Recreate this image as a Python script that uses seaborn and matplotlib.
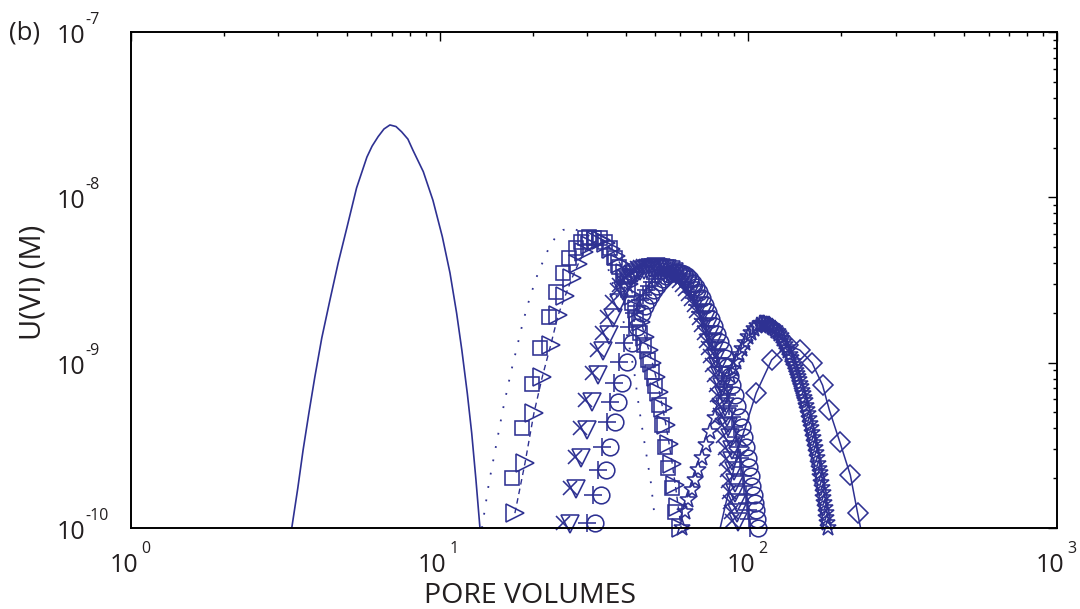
import matplotlib
matplotlib.use("Agg")
import matplotlib.pyplot as plt
import seaborn as sns
from matplotlib.ticker import LogLocator, NullFormatter
from matplotlib.transforms import blended_transform_factory, offset_copy

# ---------------- data ----------------
# solid line, no markers
pv_solid = [3.25, 3.32, 3.47, 3.61, 3.77, 3.94, 4.15, 4.41, 4.69, 5.01, 5.38, 5.81, 6.04, 6.32, 6.60,
            6.90, 7.22, 7.53, 7.89, 8.19, 8.85, 9.51, 10.2, 10.8, 11.35, 11.8, 12.29, 12.7, 13.11,
            13.5, 13.6]
u_solid = [9.0e-11, 1.01e-10, 1.74e-10, 2.96e-10, 4.96e-10, 8.18e-10, 1.41e-9, 2.39e-9, 4.01e-9,
           6.6e-9, 1.14e-8, 1.75e-8, 2.04e-8, 2.33e-8, 2.59e-8, 2.74e-8, 2.68e-8, 2.49e-8, 2.25e-8,
           1.93e-8, 1.43e-8, 9.6e-9, 5.78e-9, 3.49e-9, 1.99e-9, 1.19e-9, 6.52e-10, 3.75e-10,
           1.95e-10, 1.01e-10, 9.0e-11]

# dotted line, no markers
pv_dot = [13.71, 14.44, 15.22, 16.04, 17.02, 17.80, 18.61, 19.61, 20.82, 22.43, 23.63, 25.08, 26.43,
          27.85, 29.56, 32.57, 35.09, 37.81, 40.44, 42.61, 44.22, 45.56, 46.94, 48.36, 49.83]
u_dot = [1.0e-10, 1.87e-10, 3.13e-10, 5.24e-10, 8.77e-10, 1.24e-9, 1.76e-9, 2.49e-9, 3.48e-9, 4.80e-9,
         5.67e-9, 6.34e-9, 6.52e-9, 6.34e-9, 6.17e-9, 5.14e-9, 3.74e-9, 2.39e-9, 1.47e-9, 9.02e-10,
         5.39e-10, 3.75e-10, 2.65e-10, 1.87e-10, 1.12e-10]

# squares, no line
pv_sq = [17.15, 18.48, 19.91, 21.14, 22.60, 23.81, 25.08, 26.23, 27.64, 28.69, 29.56, 30.45, 31.7,
         33.0, 34.3, 35.6, 36.9, 38.2, 39.5, 40.8, 42.1, 43.4, 44.7, 46.0, 47.3, 48.6, 49.9, 51.2,
         52.5, 53.8, 55.1, 56.4, 57.7]
u_sq = [2.00e-10, 4.02e-10, 7.42e-10, 1.23e-9, 1.89e-9, 2.67e-9, 3.48e-9, 4.29e-9, 4.93e-9, 5.36e-9,
        5.67e-9, 5.75e-9, 5.67e-9, 5.67e-9, 5.36e-9, 4.93e-9, 4.29e-9, 3.79e-9, 3.29e-9, 2.75e-9,
        2.29e-9, 1.86e-9, 1.51e-9, 1.28e-9, 1.04e-9, 8.77e-10, 7.22e-10, 5.54e-10, 4.19e-10, 3.09e-10,
        2.30e-10, 1.74e-10, 1.25e-10]

# right triangles with dashed line
pv_tri = [17.53, 18.9, 20.2, 21.5, 22.9, 24.2, 25.5, 26.8, 28.1, 29.4, 30.7, 32.0, 33.3, 34.6, 35.9,
          37.2, 38.5, 39.8, 41.1, 42.4, 43.7, 45.0, 46.3, 47.6, 48.9, 50.2, 51.5, 52.8, 54.1, 55.4,
          56.7, 58.0, 59.3, 60.6]
u_tri = [1.23e-10, 2.47e-10, 4.95e-10, 8.2e-10, 1.28e-9, 1.94e-9, 2.53e-9, 3.23e-9, 3.95e-9, 4.67e-9,
         5.14e-9, 5.43e-9, 5.51e-9, 5.29e-9, 4.86e-9, 4.42e-9, 3.95e-9, 3.48e-9, 3.00e-9, 2.53e-9,
         2.11e-9, 1.76e-9, 1.43e-9, 1.19e-9, 9.95e-10, 8.2e-10, 6.65e-10, 5.3e-10, 4.19e-10, 3.22e-10,
         2.44e-10, 1.82e-10, 1.34e-10, 1.0e-10]

# x markers
pv_x = [25.1, 26.4, 27.4, 28.5, 29.6, 31.1, 32.3, 33.6, 34.8, 36.2, 37.5, 38.2, 39.0, 39.8, 40.7,
        41.6, 42.6, 43.6, 44.6, 45.6, 46.6, 47.7, 48.7, 49.8, 51.0, 52.1, 53.3, 54.5, 55.7, 57.0,
        58.3, 59.6, 60.9, 62.3, 63.7, 65.1, 66.6, 67.9, 69.2, 70.5, 71.8, 72.9, 74.0, 75.1, 76.2,
        77.3, 78.5, 79.4, 80.3, 81.2, 82.1, 83.0, 84.0, 84.6, 85.3, 85.9, 86.5, 87.2, 87.8, 88.4]
u_x = [1.07e-10, 1.74e-10, 2.69e-10, 4.02e-10, 5.94e-10, 8.65e-10, 1.19e-9, 1.51e-9, 1.89e-9, 2.33e-9,
       2.75e-9, 2.95e-9, 3.16e-9, 3.31e-9, 3.44e-9, 3.54e-9, 3.63e-9, 3.72e-9, 3.79e-9, 3.82e-9,
       3.84e-9, 3.85e-9, 3.84e-9, 3.82e-9, 3.79e-9, 3.74e-9, 3.68e-9, 3.59e-9, 3.48e-9, 3.37e-9,
       3.25e-9, 3.10e-9, 2.95e-9, 2.78e-9, 2.60e-9, 2.42e-9, 2.23e-9, 2.04e-9, 1.86e-9, 1.68e-9,
       1.51e-9, 1.36e-9, 1.23e-9, 1.09e-9, 9.67e-10, 8.45e-10, 7.32e-10, 6.38e-10, 5.54e-10, 4.82e-10,
       4.19e-10, 3.59e-10, 3.04e-10, 2.61e-10, 2.24e-10, 1.92e-10, 1.65e-10, 1.44e-10, 1.25e-10,
       1.10e-10]

# down triangles
pv_v = [26.36, 27.72, 28.77, 29.93, 31.08, 32.66, 33.92, 35.28, 36.54, 38.01, 39.38, 40.11, 40.95,
        41.79, 42.74, 43.68, 44.73, 45.78, 46.83, 47.88, 48.93, 50.09, 51.14, 52.29, 53.55, 54.71,
        55.97, 57.23, 58.49, 59.85, 61.22, 62.58, 63.95, 65.42, 66.89, 68.36, 69.93, 71.30, 72.66,
        74.03, 75.39, 76.55, 77.70, 78.86, 80.01, 81.17, 82.43, 83.37, 84.32, 85.26, 86.21, 87.15,
        88.20, 88.83, 89.57, 90.20, 90.83, 91.56, 92.19, 92.82]
u_v = [1.05e-10, 1.71e-10, 2.64e-10, 3.94e-10, 5.82e-10, 8.48e-10, 1.17e-9, 1.48e-9, 1.85e-9, 2.28e-9,
       2.70e-9, 2.89e-9, 3.10e-9, 3.24e-9, 3.37e-9, 3.47e-9, 3.56e-9, 3.65e-9, 3.71e-9, 3.74e-9,
       3.76e-9, 3.77e-9, 3.76e-9, 3.74e-9, 3.71e-9, 3.67e-9, 3.61e-9, 3.52e-9, 3.41e-9, 3.30e-9,
       3.19e-9, 3.04e-9, 2.89e-9, 2.72e-9, 2.55e-9, 2.37e-9, 2.19e-9, 2.00e-9, 1.82e-9, 1.65e-9,
       1.48e-9, 1.33e-9, 1.21e-9, 1.07e-9, 9.48e-10, 8.28e-10, 7.17e-10, 6.25e-10, 5.43e-10, 4.72e-10,
       4.11e-10, 3.52e-10, 2.98e-10, 2.56e-10, 2.20e-10, 1.88e-10, 1.62e-10, 1.41e-10, 1.23e-10,
       1.08e-10]

# plus markers
pv_plus = [30.0, 31.38, 32.56, 33.55, 34.83, 35.62, 36.69, 38.09, 39.54, 41.04, 42.60, 43.52, 44.55,
           45.59, 46.58, 47.67, 48.70, 49.83, 50.94, 52.09, 53.27, 54.54, 55.73, 56.99, 58.26, 59.63,
           60.93, 62.36, 63.73, 65.19, 66.64, 68.20, 69.70, 71.31, 72.89, 74.51, 76.22, 77.72, 79.13,
           80.64, 82.11, 83.65, 85.22, 86.85, 88.48, 89.87, 91.17, 92.50, 93.92, 94.95, 96.05, 97.12,
           98.25, 98.91, 99.66, 100.42, 101.17]
u_plus = [1.07e-10, 1.58e-10, 2.24e-10, 3.09e-10, 4.37e-10, 5.78e-10, 7.52e-10, 1.01e-9, 1.31e-9,
          1.64e-9, 2.00e-9, 2.20e-9, 2.39e-9, 2.58e-9, 2.75e-9, 2.92e-9, 3.07e-9, 3.22e-9, 3.34e-9,
          3.42e-9, 3.48e-9, 3.52e-9, 3.53e-9, 3.50e-9, 3.44e-9, 3.33e-9, 3.20e-9, 3.04e-9, 2.87e-9,
          2.67e-9, 2.46e-9, 2.24e-9, 2.02e-9, 1.84e-9, 1.66e-9, 1.49e-9, 1.33e-9, 1.20e-9, 1.07e-9,
          9.45e-10, 8.30e-10, 7.28e-10, 6.37e-10, 5.47e-10, 4.69e-10, 4.08e-10, 3.55e-10, 3.07e-10,
          2.65e-10, 2.34e-10, 2.06e-10, 1.80e-10, 1.58e-10, 1.42e-10, 1.28e-10, 1.13e-10, 1.0e-10]

# circles
pv_o = [31.85, 33.31, 34.57, 35.62, 36.97, 37.81, 38.95, 40.44, 41.97, 43.57, 45.22, 46.2, 47.29,
        48.4, 49.45, 50.6, 51.70, 52.9, 54.08, 55.3, 56.55, 57.9, 59.16, 60.5, 61.85, 63.3, 64.68,
        66.2, 67.65, 69.2, 70.74, 72.4, 73.99, 75.7, 77.38, 79.1, 80.91, 82.5, 84.0, 85.6, 87.17,
        88.8, 90.47, 92.2, 93.93, 95.4, 96.78, 98.2, 99.70, 100.8, 101.96, 103.1, 104.3, 105.0,
        105.8, 106.6, 107.4]
u_o = [1.07e-10, 1.58e-10, 2.24e-10, 3.09e-10, 4.37e-10, 5.78e-10, 7.52e-10, 1.01e-9, 1.31e-9,
       1.64e-9, 2.00e-9, 2.20e-9, 2.39e-9, 2.58e-9, 2.75e-9, 2.92e-9, 3.07e-9, 3.22e-9, 3.34e-9,
       3.42e-9, 3.48e-9, 3.52e-9, 3.53e-9, 3.50e-9, 3.44e-9, 3.33e-9, 3.20e-9, 3.04e-9, 2.87e-9,
       2.67e-9, 2.46e-9, 2.24e-9, 2.02e-9, 1.84e-9, 1.66e-9, 1.49e-9, 1.33e-9, 1.20e-9, 1.07e-9,
       9.45e-10, 8.30e-10, 7.28e-10, 6.37e-10, 5.47e-10, 4.69e-10, 4.08e-10, 3.55e-10, 3.07e-10,
       2.65e-10, 2.34e-10, 2.06e-10, 1.80e-10, 1.58e-10, 1.42e-10, 1.28e-10, 1.13e-10, 1.0e-10]

# stars
pv_star = [60.94, 62.31, 63.72, 65.66, 67.14, 68.65, 70.74, 72.88, 75.09, 77.94, 80.91, 84.0, 87.17,
           89.2, 91.17, 93.3, 95.35, 97.5, 99.70, 102.0, 104.26, 106.6, 109.04, 110.3, 111.5, 112.7,
           114.0, 115.3, 116.6, 117.9, 119.2, 120.5, 121.9, 123.3, 124.7, 126.1, 127.5, 129.0, 130.4,
           131.9, 133.4, 134.9, 136.4, 137.9, 139.5, 140.5, 141.6, 142.6, 143.7, 144.8, 145.9, 147.0,
           148.1, 149.2, 150.3, 151.4, 152.6, 153.7, 154.9, 156.0, 157.1, 158.3, 159.5, 160.7, 161.9,
           163.1, 164.3, 165.5, 166.8, 168.0, 169.3, 170.2, 171.2, 172.1, 173.1, 174.1, 175.1, 176.1,
           177.1, 178.1, 179.1, 180.1, 181.1]
u_star = [1.00e-10, 1.25e-10, 1.48e-10, 1.70e-10, 1.95e-10, 2.24e-10, 2.65e-10, 3.17e-10, 3.80e-10,
          4.62e-10, 5.62e-10, 6.83e-10, 8.30e-10, 9.2e-10, 1.01e-9, 1.11e-9, 1.21e-9, 1.32e-9, 1.43e-9,
          1.52e-9, 1.60e-9, 1.66e-9, 1.71e-9, 1.71e-9, 1.71e-9, 1.705e-9, 1.70e-9, 1.69e-9, 1.68e-9,
          1.66e-9, 1.64e-9, 1.62e-9, 1.60e-9, 1.565e-9, 1.53e-9, 1.49e-9, 1.45e-9, 1.39e-9, 1.33e-9,
          1.28e-9, 1.23e-9, 1.17e-9, 1.11e-9, 1.06e-9, 1.01e-9, 9.68e-10, 9.28e-10, 8.90e-10, 8.53e-10,
          8.18e-10, 7.85e-10, 7.48e-10, 7.12e-10, 6.78e-10, 6.46e-10, 6.15e-10, 5.86e-10, 5.50e-10,
          5.17e-10, 4.86e-10, 4.56e-10, 4.28e-10, 4.02e-10, 3.75e-10, 3.50e-10, 3.26e-10, 3.04e-10,
          2.84e-10, 2.65e-10, 2.45e-10, 2.27e-10, 2.15e-10, 2.03e-10, 1.88e-10, 1.74e-10, 1.63e-10,
          1.52e-10, 1.42e-10, 1.32e-10, 1.23e-10, 1.15e-10, 1.07e-10, 1.00e-10]

# diamonds with solid line
pv_dia = [80.0, 93.0, 106.0, 119.0, 134.0, 147.0, 161.0, 174.0, 183.0, 198.0, 214.0, 226.0, 240.0]
u_dia = [9.0e-11, 3.04e-10, 6.55e-10, 1.04e-9, 1.28e-9, 1.19e-9, 9.95e-10, 7.3e-10, 5.17e-10,
         3.3e-10, 2.09e-10, 1.23e-10, 7.0e-11]

x_ticks = [1, 10, 100, 1000]
x_exp = ["0", "1", "2", "3"]
y_ticks = [1e-10, 1e-9, 1e-8, 1e-7]
y_exp = ["-10", "-9", "-8", "-7"]
tick_base = "10"
x_label = "PORE VOLUMES"
y_label = "U(VI) (M)"
panel = "(b)"

# ---------------- style ----------------
sns.set_theme(style="white")
plt.rcParams["font.family"] = ["Open Sans", "DejaVu Sans"]
plt.rcParams["axes.unicode_minus"] = False

C = "#2E3192"
TXT = "#231F20"
W, H = 1080, 609
fig = plt.figure(figsize=(W / 100, H / 100), dpi=100)
fig.patch.set_facecolor("white")
ax = fig.add_axes([131 / W, (H - 528) / H, (1057 - 131) / W, (528 - 32) / H])
ax.set_xscale("log")
ax.set_yscale("log")
ax.set_xlim(1, 1000)
ax.set_ylim(1e-10, 1e-7)


def curve(x, y, **kw):
    sns.lineplot(x=x, y=y, ax=ax, estimator=None, sort=False, legend=False,
                 color=C, **kw)


def marks(x, y, marker, ms, mew=1.15, **kw):
    sns.lineplot(x=x, y=y, ax=ax, estimator=None, sort=False, legend=False,
                 color=C, marker=marker, markersize=ms, linestyle="",
                 markeredgecolor=C, markeredgewidth=mew, markerfacecolor="none",
                 clip_on=False, **kw)


curve(pv_solid, u_solid, linewidth=1.2)
curve(pv_dot, u_dot, linewidth=1.3, dashes=(1, 6.5))
marks(pv_sq, u_sq, "s", 10.5)
curve(pv_tri, u_tri, linewidth=1.0, dashes=(4, 3))
marks(pv_tri, u_tri, ">", 12.5)
marks(pv_x, u_x, "x", 9.5)
marks(pv_v, u_v, "v", 12.5)
marks(pv_plus, u_plus, "+", 13)
marks(pv_o, u_o, "o", 12)
marks(pv_star, u_star, "*", 12.5)
curve(pv_dia, u_dia, linewidth=1.1)
marks(pv_dia[1:-1], u_dia[1:-1], "D", 10)

# ---------------- axes ----------------
ax.set_xticks(x_ticks)
ax.set_yticks(y_ticks)
ax.xaxis.set_major_formatter(NullFormatter())
ax.yaxis.set_major_formatter(NullFormatter())
ax.xaxis.set_minor_locator(LogLocator(base=10, subs=range(2, 10), numticks=20))
ax.yaxis.set_minor_locator(LogLocator(base=10, subs=range(2, 10), numticks=20))
ax.xaxis.set_minor_formatter(NullFormatter())
ax.yaxis.set_minor_formatter(NullFormatter())
ax.set_xlim(1, 1000)
ax.set_ylim(1e-10, 1e-7)
ax.tick_params(which="both", direction="in", top=True, right=True, colors="black")
ax.tick_params(which="major", length=6.5, width=1.0)
ax.tick_params(which="minor", length=3.2, width=1.0)
for s in ax.spines.values():
    s.set_color("black")
    s.set_linewidth(1.4)
ax.grid(False)
ax.set_xlabel("")
ax.set_ylabel("")

# MATLAB-style power-of-ten tick labels ("10" with a small raised exponent)
bx = blended_transform_factory(ax.transData, ax.transAxes)
by = blended_transform_factory(ax.transAxes, ax.transData)
for t, e in zip(x_ticks, x_exp):
    ax.text(t, 0, tick_base, transform=offset_copy(bx, fig, x=7, y=-44, units="dots"),
            ha="right", va="baseline", fontsize=18, color=TXT, clip_on=False)
    ax.text(t, 0, e, transform=offset_copy(bx, fig, x=10, y=-25, units="dots"),
            ha="left", va="baseline", fontsize=11.5, color=TXT, clip_on=False)
for t, e in zip(y_ticks, y_exp):
    ax.text(0, t, tick_base, transform=offset_copy(by, fig, x=-74, y=-11, units="dots"),
            ha="left", va="baseline", fontsize=18, color=TXT, clip_on=False)
    ax.text(0, t, e, transform=offset_copy(by, fig, x=-46, y=8, units="dots"),
            ha="left", va="baseline", fontsize=11.5, color=TXT, clip_on=False)

fig.text(530 / W, (H - 603) / H, x_label, ha="center", va="baseline", fontsize=20.5, color=TXT)
fig.text(33 / W, (H - 282) / H, y_label, ha="center", va="center", rotation=90, fontsize=21,
         color=TXT)
fig.text(9 / W, (H - 33) / H, panel, ha="left", va="center", fontsize=18.5, color=TXT)

fig.savefig("out.png", dpi=100, facecolor="white")
